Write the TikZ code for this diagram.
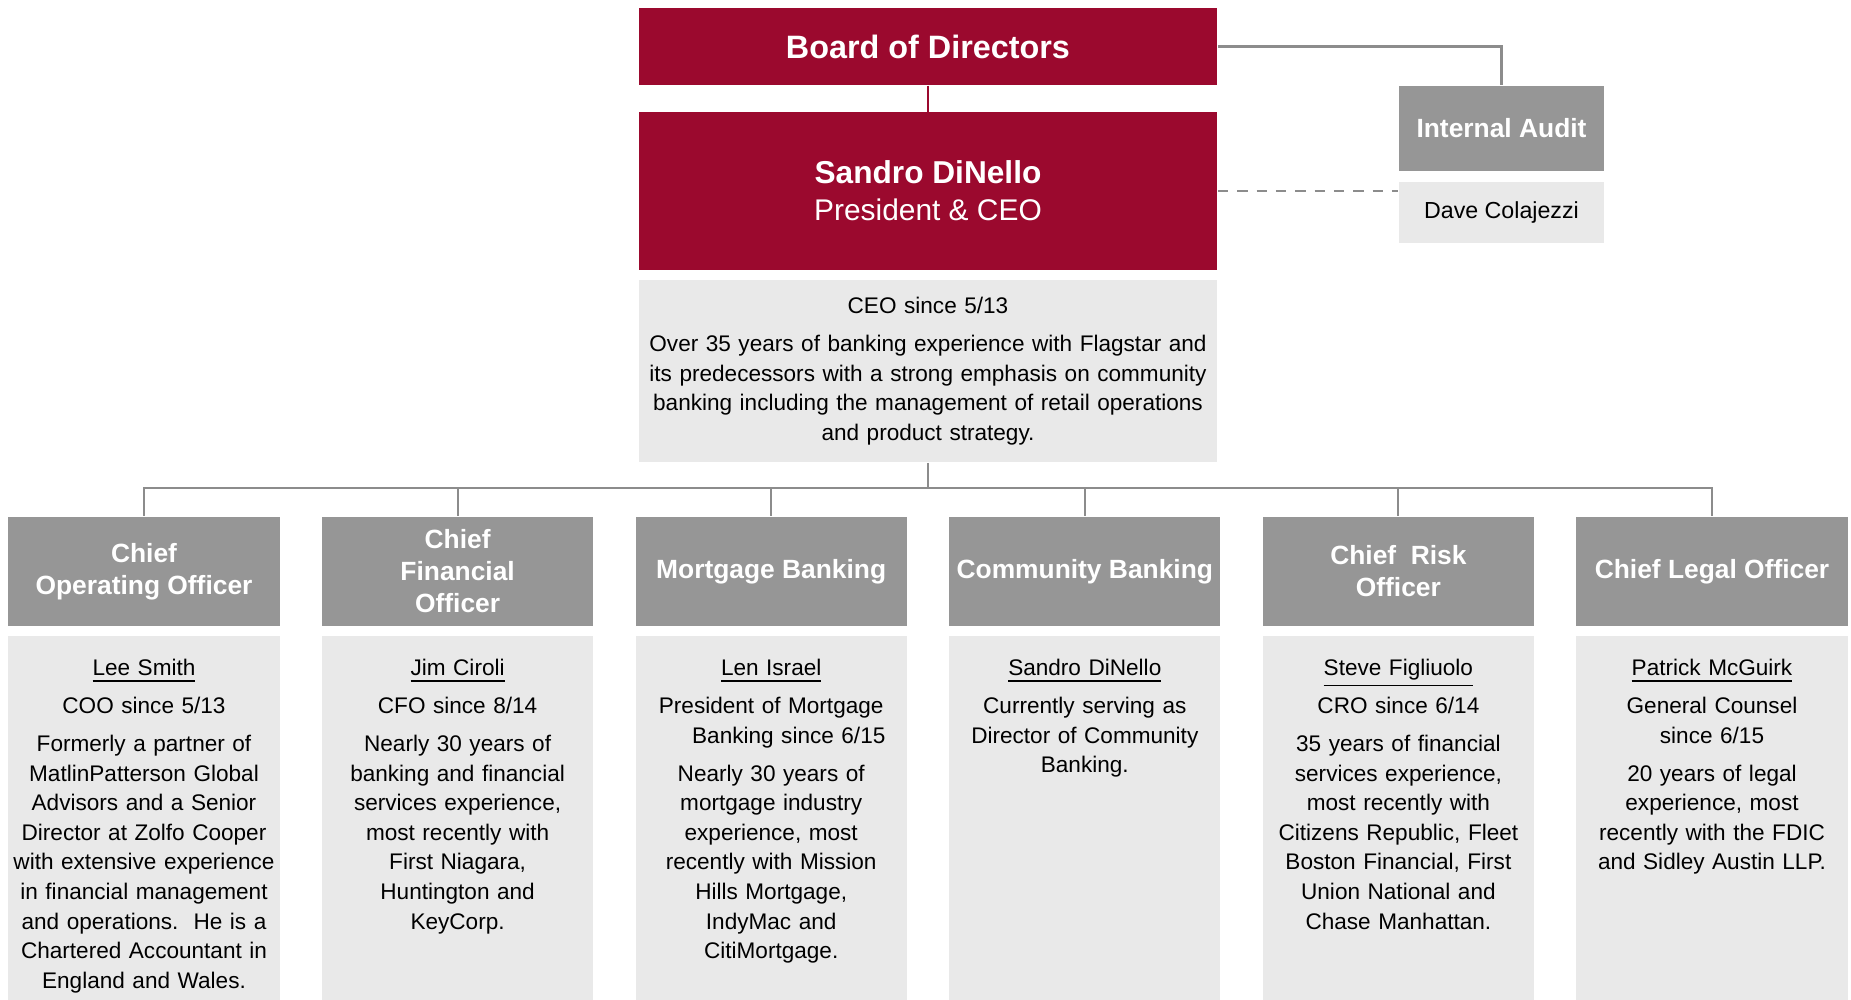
\documentclass[tikz,border=0pt]{standalone}
\usepackage{fontspec}
\setmainfont{Liberation Sans}
\usetikzlibrary{positioning}
\definecolor{fsred}{RGB}{155,9,46}
\definecolor{hdrgray}{RGB}{150,150,150}
\definecolor{biogray}{RGB}{233,233,233}
\definecolor{linegray}{RGB}{140,140,140}
\newcommand{\bodyfont}{\fontsize{6.42}{8.4}\selectfont}
\newcommand{\pgap}{\\[2.4pt]}

\begin{document}
\begin{tikzpicture}[
    x=0.01cm, y=-0.01cm,
    redbox/.style={fill=fsred, text=white, minimum width=5.78cm, align=center, inner sep=0pt},
    headbox/.style={fill=hdrgray, text=white, minimum width=2.71cm, minimum height=1.09cm,
      align=center, inner sep=0pt, font=\bfseries\fontsize{7.5}{9.1}\selectfont},
    biobox/.style={fill=biogray, minimum width=2.71cm, minimum height=3.65cm, inner sep=0pt},
    biotext/.style={text width=2.9cm, align=center, inner sep=0pt, font=\bodyfont},
    link/.style={draw=linegray, line width=0.6pt}
    ]
    \useasboundingbox (0,0) rectangle (1851,1000);

    % top of the chart
    \node[redbox, minimum height=0.77cm, font=\bfseries\fontsize{9.2}{11}\selectfont] (board) at (928,46.5) {Board of Directors};
    \node[redbox, minimum height=1.57cm, below=0.26cm of board] (ceo)
      {{\bfseries\fontsize{9}{11}\selectfont Sandro DiNello}\\[-1.4pt]{\fontsize{8.5}{11}\selectfont President \& CEO}};
    \node[fill=biogray, minimum width=5.78cm, minimum height=1.82cm, inner sep=0pt,
      text width=5.7cm, align=center, font=\bodyfont, below=0.09cm of ceo] (ceobio)
      {CEO since 5/13\pgap Over 35 years of banking experience with Flagstar and\\
       its predecessors with a strong emphasis on community\\
       banking including the management of retail operations\\
       and product strategy.};
    \node[headbox, minimum width=2.05cm, minimum height=0.85cm] (audit) at (1501.5,128.5) {Internal Audit};
    \node[fill=biogray, minimum width=2.05cm, minimum height=0.61cm, inner sep=0pt,
      font=\fontsize{6.6}{8.4}\selectfont, below=0.1cm of audit] (dave) {Dave Colajezzi};

    % officers
    \node[headbox] (cooHead) at (144,571.5) {Chief\\Operating Officer};
    \node[headbox] (cfoHead) at (457.6,571.5) {Chief\\Financial\\Officer};
    \node[headbox] (mtgHead) at (771.2,571.5) {Mortgage Banking};
    \node[headbox] (cmbHead) at (1084.8,571.5) {Community Banking};
    \node[headbox] (croHead) at (1398.4,571.5) {Chief\ \ Risk\\Officer};
    \node[headbox] (cloHead) at (1712,571.5) {Chief Legal Officer};

    \node[biobox, below=0.09cm of cooHead] (cooBio) {};
    \node[biobox, below=0.09cm of cfoHead] (cfoBio) {};
    \node[biobox, below=0.09cm of mtgHead] (mtgBio) {};
    \node[biobox, below=0.09cm of cmbHead] (cmbBio) {};
    \node[biobox, below=0.09cm of croHead] (croBio) {};
    \node[biobox, below=0.09cm of cloHead] (cloBio) {};

    \node[biotext, below=0.23cm of cooBio.north] (cooText)
      {\underline{Lee Smith}\pgap COO since 5/13\pgap Formerly a partner of\\
       MatlinPatterson Global\\ Advisors and a Senior\\ Director at Zolfo Cooper\\
       with extensive experience\\ in financial management\\ and operations.\ \ He is a\\
       Chartered Accountant in\\ England and Wales.};
    \node[biotext, below=0.23cm of cfoBio.north] (cfoText)
      {\underline{Jim Ciroli}\pgap CFO since 8/14\pgap Nearly 30 years of\\
       banking and financial\\ services experience,\\ most recently with\\
       First Niagara,\\ Huntington and\\ KeyCorp.};
    \node[biotext, below=0.23cm of mtgBio.north] (mtgText)
      {\underline{Len Israel}\pgap President of Mortgage\\ \hspace*{10pt}Banking since 6/15\pgap
       Nearly 30 years of\\ mortgage industry\\ experience, most\\ recently with Mission\\
       Hills Mortgage,\\ IndyMac and\\ CitiMortgage.};
    \node[biotext, below=0.23cm of cmbBio.north] (cmbText)
      {\underline{Sandro DiNello}\pgap Currently serving as\\ Director of Community\\ Banking.};
    \node[biotext, below=0.23cm of croBio.north] (croText)
      {\underline{Steve Figliuolo}\pgap CRO since 6/14\pgap 35 years of financial\\
       services experience,\\ most recently with\\ Citizens Republic, Fleet\\
       Boston Financial, First\\ Union National and\\ Chase Manhattan.};
    \node[biotext, below=0.23cm of cloBio.north] (cloText)
      {\underline{Patrick McGuirk}\pgap General Counsel\\ since 6/15\pgap 20 years of legal\\
       experience, most\\ recently with the FDIC\\ and Sidley Austin LLP.};

    % connectors
    \coordinate (hub) at (928,488);
    \draw[fsred, line width=0.6pt] (board) -- (ceo);
    \draw[link] (board.east) -| (audit.north);
    \draw[link, dash pattern=on 3pt off 2.5pt] (ceo.east) -- (ceo.east -| dave.west);
    \draw[link] (ceobio.south) -- (hub);
    \draw[link] (hub) -| (cooHead.north);
    \draw[link] (hub) -| (cfoHead.north);
    \draw[link] (hub) -| (mtgHead.north);
    \draw[link] (hub) -| (cmbHead.north);
    \draw[link] (hub) -| (croHead.north);
    \draw[link] (hub) -| (cloHead.north);

  \end{tikzpicture}
\end{document}
